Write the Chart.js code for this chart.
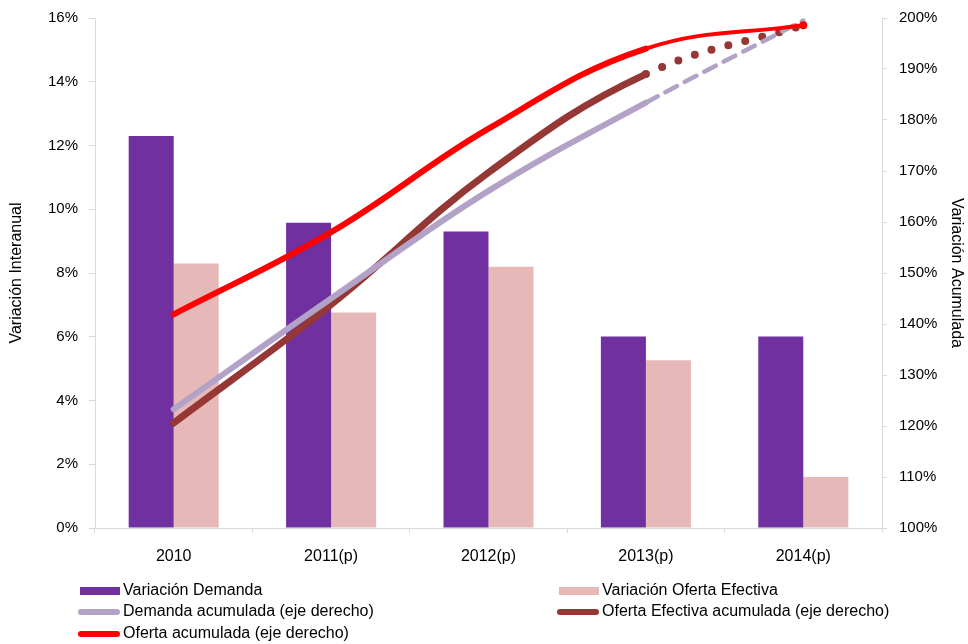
<!DOCTYPE html>
<html>
<head>
<meta charset="utf-8">
<script src="https://cdn.jsdelivr.net/npm/chart.js@4"></script>
<style>
  html, body { margin:0; padding:0; background:#fff; }
  #wrap { position:relative; width:968px; height:644px; }
  canvas { position:absolute; left:0; top:0; }
  .lg { position:absolute; font-family:"Liberation Sans", Arial, sans-serif; font-size:16px; color:#000; white-space:nowrap; line-height:18px; letter-spacing:0px; }
  .sw { display:inline-block; vertical-align:middle; margin-right:3px; }
</style>
</head>
<body>
<div id="wrap">
  <canvas id="c" width="968" height="644"></canvas>
  <div id="legend"></div>
</div>
<script>
const categories = ['2010', '2011(p)', '2012(p)', '2013(p)', '2014(p)'];
const variacionDemanda = [12.3, 9.58, 9.3, 6.01, 6.01];
const variacionOferta = [8.3, 6.76, 8.2, 5.26, 1.6];
const demandaAcum = [123.3, 145.0, 166.1, 183.4, 199.5];
const ofertaEfAcum = [120.6, 143.8, 169.7, 189.0, 198.6];
const ofertaAcum = [141.9, 158.0, 178.3, 194.0, 198.6];
const leftTicks = [0, 2, 4, 6, 8, 10, 12, 14, 16];
const rightTicks = [100, 110, 120, 130, 140, 150, 160, 170, 180, 190, 200];

const C_PURPLE = '#7030A0', C_PINK = '#E6B9B8', C_LPURPLE = '#B3A2C7', C_DRED = '#953735', C_RED = '#FF0000';
const FONT = "'Liberation Sans', Arial, sans-serif";
const isLast = ctx => ctx.p0DataIndex === 3;

const chart = new Chart(document.getElementById('c'), {
  data: {
    labels: categories,
    datasets: [
      { type:'bar', label:'Variación Demanda', data: variacionDemanda, backgroundColor: C_PURPLE, yAxisID:'y', order:2, categoryPercentage:0.572, barPercentage:1 },
      { type:'bar', label:'Variación Oferta Efectiva', data: variacionOferta, backgroundColor: C_PINK, yAxisID:'y', order:2, categoryPercentage:0.572, barPercentage:1 },
      { type:'line', label:'Demanda acumulada (eje derecho)', data: demandaAcum, borderColor: C_LPURPLE, borderWidth:6, pointRadius:0, tension:0.4, borderCapStyle:'round', yAxisID:'y1', order:1,
        segment:{ borderDash: ctx => isLast(ctx) ? [13, 9] : undefined, borderWidth: ctx => isLast(ctx) ? 4.5 : undefined } },
      { type:'line', label:'Oferta Efectiva acumulada (eje derecho)', data: ofertaEfAcum, borderColor: C_DRED, borderWidth:7, pointRadius:0, tension:0.4, borderCapStyle:'round', yAxisID:'y1', order:1,
        segment:{ borderDash: ctx => isLast(ctx) ? [0, 17.5] : undefined, borderWidth: ctx => isLast(ctx) ? 8 : undefined } },
      { type:'line', label:'Oferta acumulada (eje derecho)', data: ofertaAcum, borderColor: C_RED, borderWidth:6, pointRadius:[0,0,0,0,4], pointBackgroundColor: C_RED, pointBorderWidth:0, tension:0.4, borderCapStyle:'round', yAxisID:'y1', order:0,
        segment:{ borderWidth: ctx => isLast(ctx) ? 4 : undefined } }
    ]
  },
  options: {
    responsive:false, animation:false,
    layout:{ padding:{ left:0, right:0, top:17, bottom:76 } },
    plugins:{ legend:{ display:false }, tooltip:{ enabled:false } },
    scales:{
      x:{
        grid:{ display:true, drawOnChartArea:false, offset:true, tickLength:5, color:'#d9d9d9' },
        border:{ color:'#d9d9d9', width:1 },
        ticks:{ color:'#000', font:{ family:FONT, size:16 }, padding:14, maxRotation:0 },
        afterFit: s => { s.height = 40; }
      },
      y:{
        position:'left', min:0, max:16,
        afterBuildTicks: s => { s.ticks = leftTicks.map(v => ({ value:v })); },
        grid:{ drawOnChartArea:false, tickLength:6, color:'#d9d9d9' },
        border:{ color:'#d9d9d9', width:1 },
        ticks:{ color:'#000', font:{ family:FONT, size:15, lineHeight:0.8 }, padding:11, callback: v => v + '%' },
        title:{ display:true, text:'Variación Interanual', color:'#000', font:{ family:FONT, size:16 }, padding:{ top:7, bottom:0 } },
        afterFit: s => { s.width = 95; }
      },
      y1:{
        position:'right', min:100, max:200,
        afterBuildTicks: s => { s.ticks = rightTicks.map(v => ({ value:v })); },
        grid:{ drawOnChartArea:false, tickLength:5, color:'#d9d9d9' },
        border:{ color:'#d9d9d9', width:1 },
        ticks:{ color:'#000', font:{ family:FONT, size:15, lineHeight:0.8 }, padding:12, callback: v => v + '%' },
        title:{ display:true, text:'Variación Acumulada', color:'#000', font:{ family:FONT, size:16 }, padding:{ top:1.5, bottom:0 } },
        afterFit: s => { s.width = 86; }
      }
    }
  }
});

// HTML legend built from the datasets
const legendPos = [
  { left:80, top:581 }, { left:559, top:581 },
  { left:78, top:602 }, { left:557, top:602 },
  { left:78, top:624 }
];
const lg = document.getElementById('legend');
chart.data.datasets.forEach((ds, i) => {
  const d = document.createElement('div');
  d.className = 'lg';
  d.style.left = legendPos[i].left + 'px';
  d.style.top = legendPos[i].top + 'px';
  const sw = document.createElement('span');
  sw.className = 'sw';
  if (ds.type === 'bar') {
    sw.style.width = '40px'; sw.style.height = '8px'; sw.style.background = ds.backgroundColor;
  } else {
    sw.style.width = '42px'; sw.style.height = '6px'; sw.style.borderRadius = '3px'; sw.style.background = ds.borderColor;
  }
  d.appendChild(sw);
  d.appendChild(document.createTextNode(ds.label));
  lg.appendChild(d);
});
</script>
</body>
</html>
